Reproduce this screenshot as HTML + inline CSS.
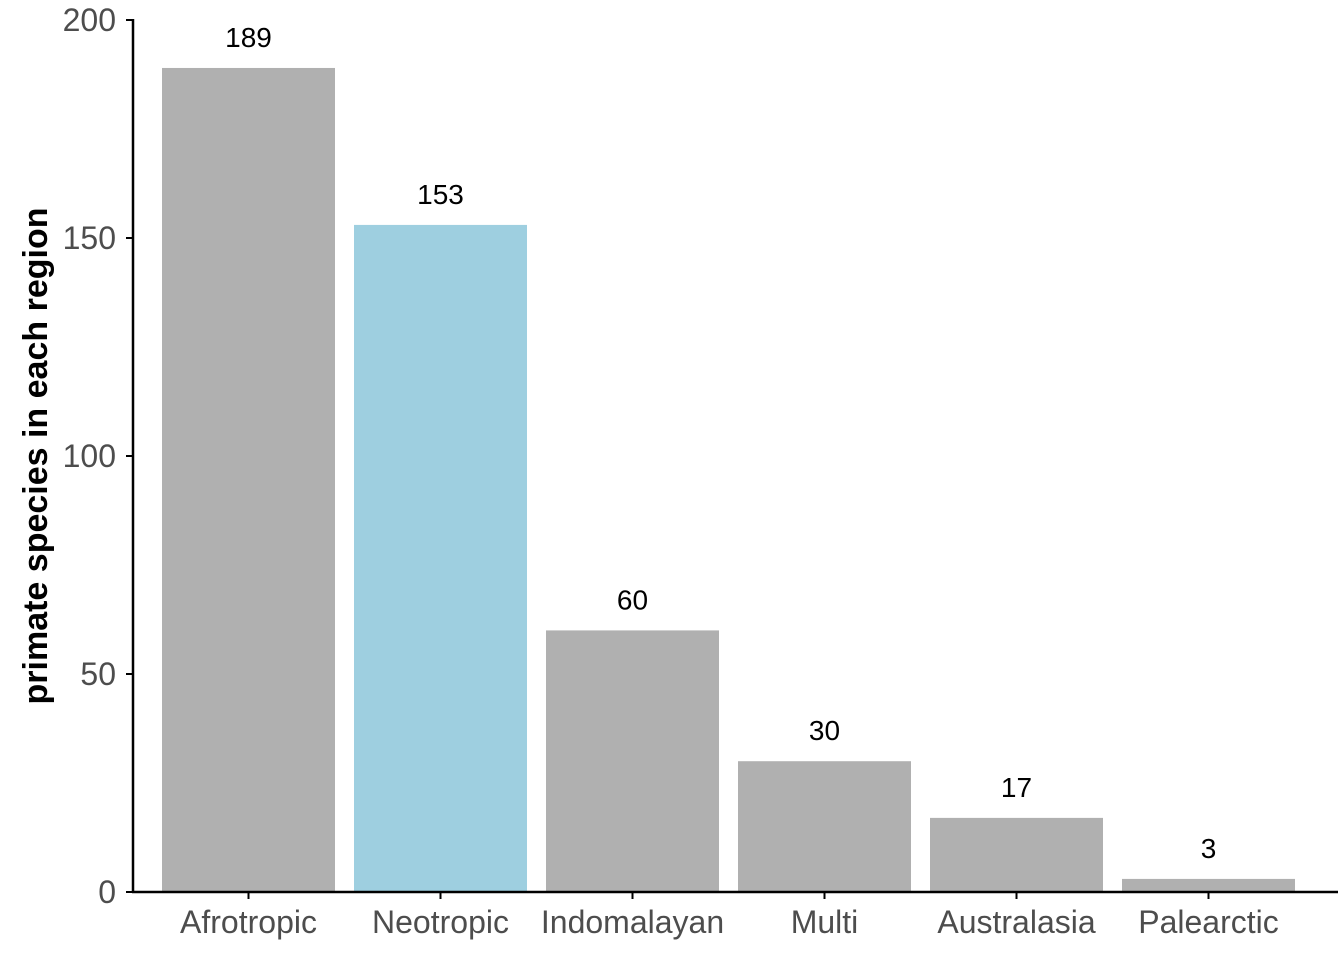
<!DOCTYPE html>
<html><head><meta charset="utf-8"><style>
html,body{margin:0;padding:0;background:#fff}
svg{display:block;font-family:"Liberation Sans",Arial,sans-serif}
svg text.ax{font-size:32px}
svg text.val{font-size:28px}
svg text.ttl{font-size:34px;font-weight:bold}
</style></head><body>
<svg id="chart" width="1344" height="960" viewBox="0 0 1344 960"></svg>
<script>
const categories=["Afrotropic","Neotropic","Indomalayan","Multi","Australasia","Palearctic"];
const values=[189,153,60,30,17,3];
const highlight=["Neotropic"];
const yTicks=[0,50,100,150,200];
const NS="http://www.w3.org/2000/svg";
const svg=document.getElementById('chart');
const y0=892,y1=20,yMax=200;
const y=v=>y0-(v/yMax)*(y0-y1);
const step=192,firstC=248.5,bw=173;
const x=i=>firstC+i*step;
function mk(t,a,txt){const e=document.createElementNS(NS,t);for(const k in a)e.setAttribute(k,a[k]);if(txt!==undefined)e.textContent=txt;svg.appendChild(e);return e;}
categories.forEach((c,i)=>{
  const r=mk('rect',{x:x(i)-bw/2,y:y(values[i]),width:bw,height:y0-y(values[i]),fill:highlight.includes(c)?'#9ecfe0':'#b0b0b0'});
  
  
  const v=mk('text',{class:'val',x:x(i),y:y(values[i])-21,'text-anchor':'middle',fill:'#000'},String(values[i]));
  
  
  const t=mk('line',{x1:x(i),x2:x(i),y1:y0,y2:y0+7,stroke:'#000','stroke-width':'2'});
  
  
  const l=mk('text',{class:'ax',x:x(i),y:933,'text-anchor':'middle',fill:'#4d4d4d'},c);
  
  
});
yTicks.forEach(v=>{
  const t=mk('line',{x1:126,x2:133,y1:y(v),y2:y(v),stroke:'#000','stroke-width':'2'});
  
  
  const l=mk('text',{class:'ax',x:116,y:y(v)+11,'text-anchor':'end',fill:'#4d4d4d'},String(v));
  
  
});
const ya=mk('line',{x1:133,x2:133,y1:y1-1,y2:y0+1,stroke:'#000','stroke-width':'2.5'});


const xa=mk('line',{x1:132,x2:1338,y1:y0,y2:y0,stroke:'#000','stroke-width':'2.5'});


const yt=mk('text',{class:'ttl',x:0,y:0,transform:'translate(47,456) rotate(-90)','text-anchor':'middle',fill:'#000'},'primate species in each region');


</script>
</body></html>
